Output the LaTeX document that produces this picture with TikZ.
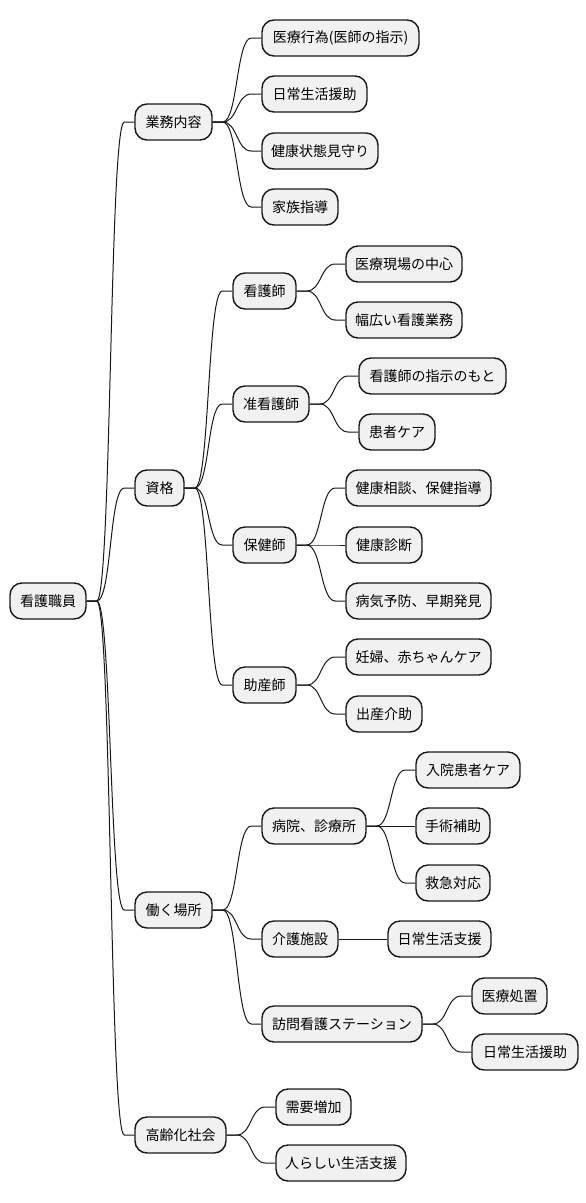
\documentclass[tikz,border=0pt]{standalone}
\usepackage{fontspec}
\setmainfont{Noto Sans CJK JP}
\usetikzlibrary{calc}
\definecolor{nodefill}{HTML}{F1F1F1}
\definecolor{nodeline}{HTML}{181818}
\tikzset{
  mm/.style={draw=nodeline, fill=nodefill, line width=1.4pt, rounded corners=12pt,
    minimum height=36pt, inner sep=0pt, font=\fontsize{14pt}{16pt}\selectfont, text=black},
  link/.style={draw=nodeline, line width=1pt}
}
\newcommand\mmbox[5]{\node[mm, minimum width={(#3-#2)*1pt}] (#1) at ({(#2+#3)/2},#4) {#5};}
\newcommand\mmlink[2]{\draw[link] let \p1=(#1.east), \p2=(#2.west) in (\p1) -- (\x1+10pt,\y1) .. controls (\x1+25pt,\y1) and (\x2-25pt,\y2) .. (\x2-10pt,\y2) -- (\p2);}
\begin{document}
\begin{tikzpicture}[x=1pt,y=-1pt]
\useasboundingbox (0,0) rectangle (586,1203);
\mmbox{root}{10}{86}{601}{看護職員}
\mmbox{a}{135}{212}{122}{業務内容}
\mmbox{a1}{262}{419}{38}{医療行為(医師の指示)}
\mmbox{a2}{262}{367}{94}{日常生活援助}
\mmbox{a3}{262}{378}{151}{健康状態見守り}
\mmbox{a4}{262}{338}{207}{家族指導}
\mmbox{b}{135}{184}{488}{資格}
\mmbox{b1}{233}{296}{291}{看護師}
\mmbox{b11}{346}{462}{264}{医療現場の中心}
\mmbox{b12}{346}{462}{320}{幅広い看護業務}
\mmbox{b2}{233}{309}{404}{准看護師}
\mmbox{b21}{359}{506}{376}{看護師の指示のもと}
\mmbox{b22}{359}{435}{432}{患者ケア}
\mmbox{b3}{233}{296}{545}{保健師}
\mmbox{b31}{346}{491}{488}{健康相談、保健指導}
\mmbox{b32}{346}{422}{545}{健康診断}
\mmbox{b33}{346}{491}{601}{病気予防、早期発見}
\mmbox{b4}{233}{296}{685}{助産師}
\mmbox{b41}{346}{491}{657}{妊婦、赤ちゃんケア}
\mmbox{b42}{346}{422}{714}{出産介助}
\mmbox{c}{135}{212}{910}{働く場所}
\mmbox{c1}{262}{366}{826}{病院、診療所}
\mmbox{c11}{416}{520}{770}{入院患者ケア}
\mmbox{c12}{416}{490}{826}{手術補助}
\mmbox{c13}{416}{490}{883}{救急対応}
\mmbox{c2}{262}{338}{939}{介護施設}
\mmbox{c21}{388}{491}{939}{日常生活支援}
\mmbox{c3}{262}{422}{1024}{訪問看護ステーション}
\mmbox{c31}{472}{547}{996}{医療処置}
\mmbox{c32}{472}{578}{1052}{日常生活援助}
\mmbox{d}{135}{226}{1135}{高齢化社会}
\mmbox{d1}{276}{351}{1107}{需要増加}
\mmbox{d2}{276}{406}{1163}{人らしい生活支援}
\mmlink{root}{a}\mmlink{root}{b}\mmlink{root}{c}\mmlink{root}{d}
\mmlink{a}{a1}\mmlink{a}{a2}\mmlink{a}{a3}\mmlink{a}{a4}
\mmlink{b}{b1}\mmlink{b}{b2}\mmlink{b}{b3}\mmlink{b}{b4}
\mmlink{b1}{b11}\mmlink{b1}{b12}
\mmlink{b2}{b21}\mmlink{b2}{b22}
\mmlink{b3}{b31}\mmlink{b3}{b32}\mmlink{b3}{b33}
\mmlink{b4}{b41}\mmlink{b4}{b42}
\mmlink{c}{c1}\mmlink{c}{c2}\mmlink{c}{c3}
\mmlink{c1}{c11}\mmlink{c1}{c12}\mmlink{c1}{c13}
\mmlink{c2}{c21}
\mmlink{c3}{c31}\mmlink{c3}{c32}
\mmlink{d}{d1}\mmlink{d}{d2}
\end{tikzpicture}
\end{document}
